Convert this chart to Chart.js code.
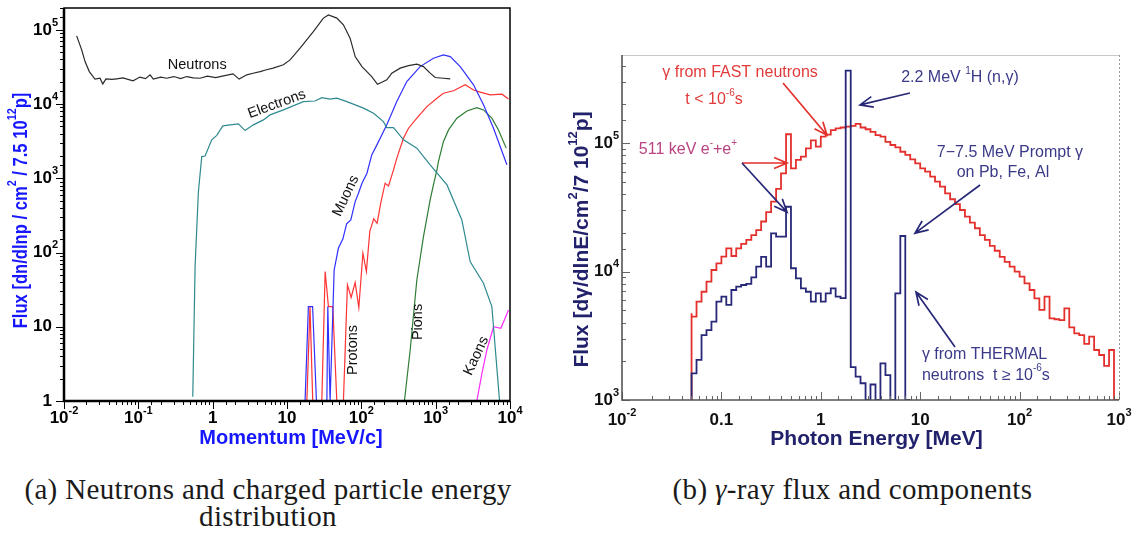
<!DOCTYPE html>
<html>
<head>
<meta charset="utf-8">
<script src="https://cdn.jsdelivr.net/npm/chart.js@4.4.1/dist/chart.umd.min.js"></script>
<style>
  html, body { margin: 0; padding: 0; background: #fff; }
  body { width: 1132px; height: 533px; position: relative; overflow: hidden; }
  canvas { position: absolute; top: 0; }
  #leftChart { left: 0; }
  #rightChart { left: 540px; }
  .cap { position: absolute; text-align: center; font-family: "Liberation Serif", "DejaVu Serif", serif;
         font-size: 29px; line-height: 27px; letter-spacing: 0.35px; color: #1a1a1a; white-space: nowrap; }
</style>
</head>
<body>
<canvas id="leftChart" width="530" height="460"></canvas>
<canvas id="rightChart" width="592" height="460"></canvas>
<div class="cap" style="left:0;width:536px;top:476px">(a) Neutrons and charged particle energy<br>distribution</div>
<div class="cap" style="left:560px;width:585px;top:476px">(b) <i>γ</i>-ray flux and components</div>
<script>
// ---- (a) momentum spectra, momentum in MeV/c, flux per lnp
const NEUTRON_P = [0.0148, 0.0173, 0.0192, 0.0219, 0.0261, 0.0305, 0.0332, 0.0367, 0.0440, 0.0512, 0.0620, 0.0849, 0.105, 0.125, 0.144, 0.159, 0.200, 0.241, 0.300, 0.370, 0.448, 0.550, 0.676, 0.850, 1.10, 1.40, 1.88, 2.27, 2.88, 3.50, 4.35, 5.30, 6.50, 8.95, 11.0, 15.0, 22.6, 30.9, 36.1, 46.8, 57.4, 70.6, 82.6, 102, 138, 165, 189, 220, 257, 333, 431, 558, 685, 843, 985, 1270, 1570];
const NEUTRON_F = [83000, 53700, 37400, 27400, 21700, 22300, 18700, 21900, 21500, 21900, 22500, 20600, 23100, 22000, 24800, 21700, 23000, 22300, 23500, 22000, 23500, 22500, 22300, 23800, 22800, 24000, 25500, 21700, 24800, 26000, 27400, 29000, 30500, 33800, 39400, 56700, 94900, 144000, 159000, 144000, 117000, 77300, 43700, 32000, 23500, 18500, 19700, 21200, 26100, 30500, 33000, 34500, 32000, 26100, 22800, 22300, 21900];

const ELECTRON_P = [0.54, 0.58, 0.642, 0.713, 0.79, 0.973, 1.135, 1.37, 1.71, 2.22, 2.73, 3.53, 4.81, 5.92, 8.95, 16.6, 23.9, 29.4, 38.0, 46.8, 63.8, 107, 146, 198, 220, 271, 369, 558, 843, 1420, 2250, 2910, 4400, 5700, 7220];
const ELECTRON_F = [1.14, 64.6, 650, 1960, 2000, 3300, 3790, 5080, 5250, 5410, 4400, 5250, 6130, 7150, 8350, 10800, 11000, 12200, 11700, 12000, 10800, 8810, 7540, 5810, 4820, 4820, 3300, 2550, 1520, 815, 275, 75.4, 38.6, 18.7, 1.03];

const MUON_P = [17.5, 19.4, 22.1, 24.9, 34.4, 35.4, 38.0, 43.1, 49.2, 56.4, 63.4, 72.2, 82.6, 91.5, 102, 119, 138, 162, 220, 300, 409, 618, 933, 1270, 1570, 2140, 3230, 4400, 6000, 9080];
const MUON_F = [1, 18.7, 18.7, 1, 1, 18.7, 1, 58.3, 115, 152, 243, 275, 485, 630, 859, 1170, 2070, 2820, 5250, 10800, 20100, 32000, 41500, 46000, 43700, 32000, 18200, 9770, 4730, 1520];

const PROTON_P = [18.5, 20.4, 22.2, 29.4, 32.6, 36.1, 41.3, 46.8, 57.4, 65.0, 72.9, 82.6, 92.5, 105, 117, 130, 147, 163, 184, 209, 232, 271, 300, 369, 431, 558, 762, 1040, 1270, 1740, 2500, 3230, 3970, 5420, 7780, 9550];
const PROTON_F = [1, 18.7, 1, 1, 55.3, 18.7, 18.7, 1, 1, 36.6, 24.8, 39.5, 18.2, 97.8, 55.3, 195, 284, 248, 485, 859, 790, 1300, 1870, 3470, 4730, 6460, 9250, 12000, 14000, 15100, 18200, 15500, 14500, 13300, 13600, 11700];

const PION_P = [380, 454, 558, 685, 843, 933, 1040, 1090, 1270, 1490, 1930, 2630, 3580, 4400, 5700, 7000, 8890];
const PION_F = [1, 4.87, 42.7, 164, 512, 815, 1300, 1680, 3120, 4490, 6460, 8090, 8970, 8350, 6460, 4490, 2550];

const KAON_P = [3580, 4190, 4890, 6000, 7540, 9550];
const KAON_F = [1, 2.36, 4.87, 10.0, 9.55, 16.8];

const LEFT_X_TICKS = [0.01, 0.1, 1, 10, 100, 1000, 10000];
const LEFT_X_LABELS = [['10', '-2'], ['10', '-1'], ['1', ''], ['10', ''], ['10', '2'], ['10', '3'], ['10', '4']];
const LEFT_Y_TICKS = [1, 10, 100, 1000, 10000, 100000];
const LEFT_Y_LABELS = [['1', ''], ['10', ''], ['10', '2'], ['10', '3'], ['10', '4'], ['10', '5']];

// curve names sit next to their curves: [text, momentum, flux, angle in degrees]
const CURVE_NAMES = [
  ['Neutrons', 0.62, 33800, 0],
  ['Electrons', 7.3, 10000, -20],
  ['Muons', 62, 580, -65],
  ['Protons', 77.6, 4.87, -90],
  ['Pions', 581, 11.6, -90],
  ['Kaons', 3510, 4.04, -65]
];

// ---- (b) gamma spectrum, 20 log bins per decade, energy in MeV
const E_EDGES = [0.0501, 0.0562, 0.0631, 0.0708, 0.0794, 0.0891, 0.1, 0.112, 0.126, 0.141, 0.158, 0.178, 0.2, 0.224, 0.251, 0.282, 0.316, 0.355, 0.398, 0.447, 0.501, 0.562, 0.631, 0.708, 0.794, 0.891, 1, 1.12, 1.26, 1.41, 1.58, 1.78, 2.0, 2.24, 2.51, 2.82, 3.16, 3.55, 3.98, 4.47, 5.01, 5.62, 6.31, 7.08, 7.94, 8.91, 10, 11.2, 12.6, 14.1, 15.8, 17.8, 20, 22.4, 25.1, 28.2, 31.6, 35.5, 39.8, 44.7, 50.1, 56.2, 63.1, 70.8, 79.4, 89.1, 100, 112, 126, 141, 158, 178, 200, 224, 251, 282, 316, 355, 398, 447, 501, 562, 631, 708, 794, 891, 1000];
const FAST_FLUX = [4730, 4450, 5820, 6960, 8330, 10270, 11580, 13040, 15150, 13200,
  15150, 16400, 17600, 19200, 21000, 24500, 29000, 35000, 44000, 58000,
  117000, 63500, 73800, 78200, 90800, 105000, 93600, 112000, 116000, 126000,
  130000, 132000, 134000, 136000, 141000, 132000, 128000, 122000, 115000, 112000,
  102000, 96500, 92500, 85500, 80700, 74700, 69500, 63500, 59800, 54700,
  50000, 45700, 40500, 36500, 33500, 30100, 26700, 24000, 21700, 19200,
  17600, 15800, 14500, 13000, 11900, 10900, 9970, 9120, 8090, 7180,
  6180, 5020, 6370, 4320, 4250, 4190, 5170, 3680, 3300, 3200,
  2730, 3110, 2450, 2240, 1840, 2450];
const THERMAL_FLUX = [1475, 1610, 2050, 3200, 3500, 4070, 5820, 6370, 5490, 7180,
  7620, 7850, 8000, 9010, 10900, 13000, 10900, 19800, 18700, 18700,
  31900, 10600, 8850, 7400, 6960, 5820, 6760, 5820, 6760, 7400,
  6370, 6200, 366000, 1800, 1520, 1350, 1000, 1320, 1000, 1930,
  1560, 1000, 6760, 18900];
const Y_FLOOR = 1000;

const RIGHT_X_TICKS = [0.01, 0.1, 1, 10, 100, 1000];
const RIGHT_X_LABELS = [['10', '-2'], ['0.1', ''], ['1', ''], ['10', ''], ['10', '2'], ['10', '3']];
const RIGHT_Y_TICKS = [1000, 10000, 100000];
const RIGHT_Y_LABELS = [['10', '3'], ['10', '4'], ['10', '5']];

const SANS = '"Liberation Sans", Arial, "DejaVu Sans", sans-serif';
const RED = '#e3302c', NAVY = '#282878';

// text pieces: [string, isSuperscript]
const NOTES = [
  { segs: [['γ from FAST neutrons', 0]], x: 0.154, y: 351000, color: '#e23a3a', align: 'center' },
  { segs: [['t < 10', 0], ['-6', 1], ['s', 0]], x: 0.0843, y: 216000, color: '#e23a3a', align: 'center' },
  { segs: [['2.2 MeV ', 0], ['1', 1], ['H (n,γ)', 0]], x: 25.1, y: 321000, color: '#3a3a88', align: 'center' },
  { segs: [['511 keV e', 0], ['-', 1], ['+e', 0], ['+', 1]], x: 0.0461, y: 88300, color: '#b8437f', align: 'center' },
  { segs: [['7−7.5 MeV Prompt γ', 0]], x: 80, y: 83600, color: '#3a3a88', align: 'center' },
  { segs: [['on Pb, Fe, Al', 0]], x: 68, y: 58400, color: '#3a3a88', align: 'center' },
  { segs: [['γ from THERMAL', 0]], x: 10.4, y: 2240, color: '#3a3a88', align: 'left' },
  { segs: [['neutrons  t ≥ 10', 0], ['-6', 1], ['s', 0]], x: 10.4, y: 1560, color: '#3a3a88', align: 'left' }
];
// arrows: from -> to, in data coordinates
const ARROWS = [
  { from: [0.417, 293000], to: [1.154, 115000], color: RED },
  { from: [7.89, 245000], to: [2.48, 198000], color: NAVY },
  { from: [0.161, 69900], to: [0.457, 69900], color: RED },
  { from: [0.161, 69900], to: [0.457, 29000], color: NAVY },
  { from: [40, 47100], to: [8.87, 19900], color: NAVY },
  { from: [22.4, 2580], to: [9.07, 6920], color: NAVY }
];

function zip(xs, ys) {
  return xs.map((x, i) => ({ x: x, y: ys[i] }));
}

function stepPoints(edges, vals, floor) {
  const pts = [{ x: edges[0], y: floor }];
  vals.forEach((v, i) => pts.push({ x: edges[i], y: v }));
  pts.push({ x: edges[vals.length], y: floor });
  return pts;
}

function isDecade(v) {
  const l = Math.log10(v);
  return Math.abs(l - Math.round(l)) < 1e-9;
}

// draws a run of text with raised small pieces
function drawRich(ctx, segs, x, y, o) {
  const font = s => (o.weight || 'normal') + ' ' + s + 'px ' + SANS;
  const small = Math.round(o.size * 0.64);
  let w = 0;
  const parts = segs.map(([t, up]) => {
    ctx.font = font(up ? small : o.size);
    const m = ctx.measureText(t).width;
    w += m;
    return [t, up, m];
  });
  ctx.save();
  ctx.translate(x, y);
  if (o.rot) ctx.rotate(o.rot);
  if (o.sx) ctx.scale(o.sx, 1);
  ctx.fillStyle = o.color;
  ctx.textBaseline = 'middle';
  ctx.textAlign = 'left';
  let cx = -w / 2;
  if (o.align === 'left') cx = 0;
  if (o.align === 'right') cx = -w;
  if (o.align === 'baseRight') cx = -parts[0][2];
  parts.forEach(([t, up, m]) => {
    ctx.font = font(up ? small : o.size);
    ctx.fillText(t, cx, up ? -o.size * 0.42 : 0);
    cx += m;
  });
  ctx.restore();
}

function drawTickMarks(chart, dir, major, minor, color) {
  const { ctx, chartArea: a, scales: { x, y } } = chart;
  ctx.save();
  ctx.strokeStyle = color;
  ctx.lineWidth = 1;
  ctx.beginPath();
  x.ticks.forEach(t => {
    if (t.value < x.min || t.value > x.max) return;
    const px = Math.round(x.getPixelForValue(t.value)) + 0.5;
    const len = isDecade(t.value) ? major : minor;
    ctx.moveTo(px, a.bottom);
    ctx.lineTo(px, a.bottom + dir * len);
  });
  y.ticks.forEach(t => {
    if (t.value < y.min || t.value > y.max) return;
    const py = Math.round(y.getPixelForValue(t.value)) + 0.5;
    const len = isDecade(t.value) ? major : minor;
    ctx.moveTo(a.left, py);
    ctx.lineTo(a.left - dir * len, py);
  });
  ctx.stroke();
  ctx.restore();
}

function arrow(ctx, x1, y1, x2, y2, color) {
  const ang = Math.atan2(y2 - y1, x2 - x1), h = 14, s = 0.4;
  ctx.save();
  ctx.strokeStyle = color;
  ctx.lineWidth = 1.7;
  ctx.beginPath();
  ctx.moveTo(x1, y1);
  ctx.lineTo(x2, y2);
  ctx.moveTo(x2 - h * Math.cos(ang - s), y2 - h * Math.sin(ang - s));
  ctx.lineTo(x2, y2);
  ctx.lineTo(x2 - h * Math.cos(ang + s), y2 - h * Math.sin(ang + s));
  ctx.stroke();
  ctx.restore();
}

function labelSegs(pair) {
  return pair[1] ? [[pair[0], 0], [pair[1], 1]] : [[pair[0], 0]];
}

const hidden = { grid: { display: false }, border: { display: false }, ticks: { display: false } };

// ---------- chart (a)
const leftDeco = {
  id: 'leftDeco',
  afterDraw(chart) {
    const { ctx, chartArea: a, scales: { x, y } } = chart;
    drawTickMarks(chart, 1, 8, 4, '#000');
    ctx.save();
    ctx.strokeStyle = '#000';
    ctx.lineWidth = 1.5;
    ctx.strokeRect(a.left, a.top, a.right - a.left, a.bottom - a.top);
    ctx.lineWidth = 2.5;
    ctx.beginPath();
    ctx.moveTo(a.left, a.top);
    ctx.lineTo(a.left, a.bottom);
    ctx.lineTo(a.right, a.bottom);
    ctx.stroke();
    ctx.restore();

    LEFT_X_TICKS.forEach((v, i) => drawRich(ctx, labelSegs(LEFT_X_LABELS[i]), x.getPixelForValue(v), a.bottom + 17,
      { size: 17, weight: 'bold', color: '#000', align: 'center' }));
    LEFT_Y_TICKS.forEach((v, i) => drawRich(ctx, labelSegs(LEFT_Y_LABELS[i]), a.left - 12, y.getPixelForValue(v),
      { size: 17, weight: 'bold', color: '#000', align: 'baseRight' }));

    drawRich(ctx, [['Flux [dn/dlnp / cm', 0], ['2', 1], [' / 7.5 10', 0], ['12', 1], ['p]', 0]],
      a.left - 43, (a.top + a.bottom) / 2 + 6, { size: 20, weight: 'bold', color: '#1616ff', rot: -Math.PI / 2, sx: 0.83 });
    drawRich(ctx, [['Momentum [MeV/c]', 0]], (a.left + a.right) / 2 + 4, a.bottom + 37,
      { size: 20, weight: 'bold', color: '#1616ff' });

    CURVE_NAMES.forEach(([t, px, py, deg]) => drawRich(ctx, [[t, 0]], x.getPixelForValue(px), y.getPixelForValue(py),
      { size: 14.5, color: '#111', rot: deg * Math.PI / 180 }));
  }
};

function leftSet(label, xs, ys, color) {
  return { label: label, data: zip(xs, ys), borderColor: color, borderWidth: 1.2, pointRadius: 0, tension: 0, fill: false };
}

new Chart(document.getElementById('leftChart'), {
  type: 'line',
  data: {
    datasets: [
      leftSet('Neutrons', NEUTRON_P, NEUTRON_F, '#2a2a2a'),
      leftSet('Electrons', ELECTRON_P, ELECTRON_F, '#2f8a90'),
      leftSet('Muons', MUON_P, MUON_F, '#3030ff'),
      leftSet('Protons', PROTON_P, PROTON_F, '#ff3333'),
      leftSet('Pions', PION_P, PION_F, '#2f7d34'),
      leftSet('Kaons', KAON_P, KAON_F, '#ff2bff')
    ]
  },
  options: {
    responsive: false,
    animation: false,
    devicePixelRatio: 1,
    layout: { padding: { top: 8, right: 20, left: 0, bottom: 0 } },
    plugins: { legend: { display: false }, tooltip: { enabled: false } },
    scales: {
      x: Object.assign({ type: 'logarithmic', min: 0.01, max: 10000, afterFit: s => { s.height = 59; } }, hidden),
      y: Object.assign({ type: 'logarithmic', min: 1, max: 197000, afterFit: s => { s.width = 64; } }, hidden)
    }
  },
  plugins: [leftDeco]
});

// ---------- chart (b)
const rightDeco = {
  id: 'rightDeco',
  afterDraw(chart) {
    const { ctx, chartArea: a, scales: { x, y } } = chart;
    drawTickMarks(chart, -1, 8, 4, '#666');
    ctx.save();
    ctx.lineWidth = 1;
    ctx.strokeStyle = '#c8c8c8';
    ctx.beginPath();
    ctx.moveTo(a.left, a.top + 0.5);
    ctx.lineTo(a.right, a.top + 0.5);
    ctx.stroke();
    ctx.setLineDash([2, 2]);
    ctx.strokeStyle = '#999';
    ctx.beginPath();
    ctx.moveTo(a.right + 0.5, a.top);
    ctx.lineTo(a.right + 0.5, a.bottom);
    ctx.stroke();
    ctx.setLineDash([]);
    ctx.lineWidth = 1.6;
    ctx.strokeStyle = '#555';
    ctx.beginPath();
    ctx.moveTo(a.left, a.top);
    ctx.lineTo(a.left, a.bottom);
    ctx.lineTo(a.right, a.bottom);
    ctx.stroke();
    ctx.restore();

    RIGHT_X_TICKS.forEach((v, i) => drawRich(ctx, labelSegs(RIGHT_X_LABELS[i]), x.getPixelForValue(v), a.bottom + 20,
      { size: 17, weight: 'bold', color: '#111', align: 'center' }));
    RIGHT_Y_TICKS.forEach((v, i) => drawRich(ctx, labelSegs(RIGHT_Y_LABELS[i]), a.left - 9, y.getPixelForValue(v),
      { size: 17, weight: 'bold', color: '#111', align: 'baseRight' }));

    drawRich(ctx, [['Flux [dγ/dlnE/cm', 0], ['2', 1], ['/7 10', 0], ['12', 1], ['p]', 0]],
      a.left - 40, (a.top + a.bottom) / 2 + 12, { size: 21, weight: 'bold', color: '#22226c', rot: -Math.PI / 2 });
    drawRich(ctx, [['Photon Energy [MeV]', 0]], (a.left + a.right) / 2 + 6, a.bottom + 39,
      { size: 21, weight: 'bold', color: '#22226c' });

    NOTES.forEach(n => drawRich(ctx, n.segs, x.getPixelForValue(n.x), y.getPixelForValue(n.y),
      { size: 16, color: n.color, align: n.align }));
    ARROWS.forEach(r => arrow(ctx, x.getPixelForValue(r.from[0]), y.getPixelForValue(r.from[1]),
      x.getPixelForValue(r.to[0]), y.getPixelForValue(r.to[1]), r.color));
  }
};

new Chart(document.getElementById('rightChart'), {
  type: 'line',
  data: {
    datasets: [
      { label: 'thermal', data: stepPoints(E_EDGES, THERMAL_FLUX, Y_FLOOR), stepped: 'after',
        borderColor: NAVY, borderWidth: 1.8, pointRadius: 0, fill: false },
      { label: 'fast', data: stepPoints(E_EDGES, FAST_FLUX, Y_FLOOR), stepped: 'after',
        borderColor: RED, borderWidth: 1.8, pointRadius: 0, fill: false }
    ]
  },
  options: {
    responsive: false,
    animation: false,
    devicePixelRatio: 1,
    layout: { padding: { top: 55, right: 13, left: 0, bottom: 0 } },
    plugins: { legend: { display: false }, tooltip: { enabled: false } },
    scales: {
      x: Object.assign({ type: 'logarithmic', min: 0.01, max: 1000, afterFit: s => { s.height = 60; } }, hidden),
      y: Object.assign({ type: 'logarithmic', min: 1000, max: 484000, afterFit: s => { s.width = 82; } }, hidden)
    }
  },
  plugins: [rightDeco]
});
</script>
</body>
</html>
